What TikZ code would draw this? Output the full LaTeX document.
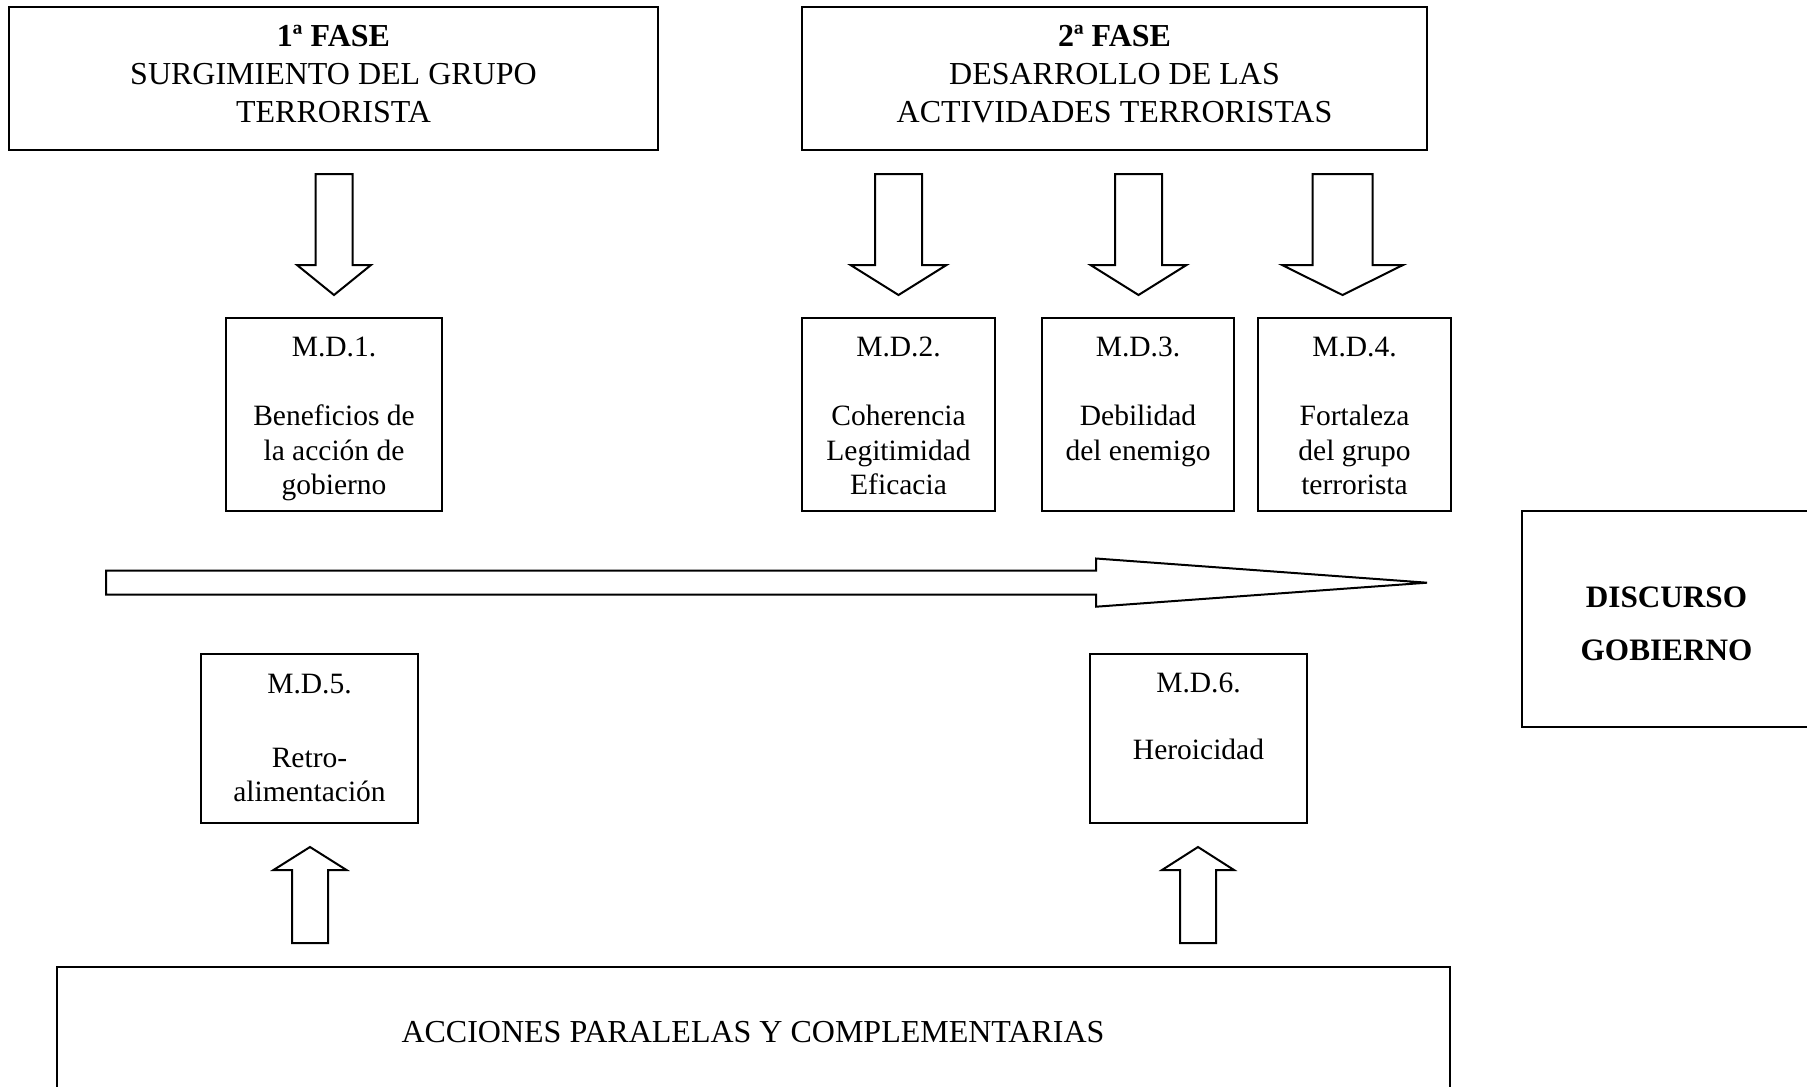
\documentclass[tikz,border=0pt]{standalone}
\usepackage{fontspec}
\setmainfont{Liberation Serif}
\newcommand\blkarrow[6]{\draw[blk] (#1-#2,#3) -- (#1+#2,#3) -- (#1+#2,#4) -- (#1+#5,#4) -- (#1,#6) -- (#1-#5,#4) -- (#1-#2,#4) -- cycle;}
\tikzset{
  box/.style={draw=black, line width=1pt, fill=white, inner sep=0pt, rectangle},
  blk/.style={draw=black, line width=1pt, fill=white, line join=miter},
  ttl/.style={inner sep=0pt, align=center, font=\fontsize{16pt}{19pt}\selectfont},
  mdtxt/.style={inner sep=0pt, align=center, font=\fontsize{14.75pt}{17.25pt}\selectfont},
  disc/.style={inner sep=0pt, align=center, font=\fontsize{15.6pt}{26.75pt}\selectfont\bfseries},
}
\begin{document}
\begin{tikzpicture}[x=0.5pt, y=-0.5pt]
\useasboundingbox[fill=white] (0,0) rectangle (1807,1086);

% phase boxes
\node[box, minimum width=324.5pt, minimum height=71.5pt] (f1) at (333.5,78.5) {};
\node[box, minimum width=312.5pt, minimum height=71.5pt] (f2) at (1114.5,78.5) {};
\node[ttl, anchor=north] (f1t) at (333.5,25.1) {\textbf{1ª FASE}\\SURGIMIENTO DEL GRUPO\\TERRORISTA};
\node[ttl, anchor=north] (f2t) at (1114.5,25.1) {\textbf{2ª FASE}\\DESARROLLO DE LAS\\ACTIVIDADES TERRORISTAS};

% M.D. boxes
\node[box, minimum width=108pt, minimum height=96.5pt] (md1) at (334,414.5) {};
\node[box, minimum width=96.5pt, minimum height=96.5pt] (md2) at (898.5,414.5) {};
\node[box, minimum width=96pt, minimum height=96.5pt] (md3) at (1138,414.5) {};
\node[box, minimum width=96.5pt, minimum height=96.5pt] (md4) at (1354.5,414.5) {};
\node[box, minimum width=108.5pt, minimum height=84.5pt] (md5) at (309.5,738.5) {};
\node[box, minimum width=108.5pt, minimum height=84.5pt] (md6) at (1198.5,738.5) {};

\node[mdtxt, anchor=north] (md1t) at (334,336.8) {M.D.1.\\[17.25pt]Beneficios de\\la acción de\\gobierno};
\node[mdtxt, anchor=north] (md2t) at (898.5,336.8) {M.D.2.\\[17.25pt]Coherencia\\Legitimidad\\Eficacia};
\node[mdtxt, anchor=north] (md3t) at (1138,336.8) {M.D.3.\\[17.25pt]Debilidad\\del enemigo};
\node[mdtxt, anchor=north] (md4t) at (1354.5,336.8) {M.D.4.\\[17.25pt]Fortaleza\\del grupo\\terrorista};
\node[mdtxt, anchor=north] (md5t) at (309.5,674) {M.D.5.\\[19.5pt]Retro-\\alimentación};
\node[mdtxt, anchor=north] (md6t) at (1198.5,673) {M.D.6.\\[16pt]Heroicidad};

% discurso box
\node[box, minimum width=144pt, minimum height=108pt] (dg) at (1666,619) {};
\node[disc, anchor=north] (dgt) at (1666.5,586) {DISCURSO\\GOBIERNO};

% bottom box
\node[box, minimum width=696.5pt, minimum height=66.5pt] (acc) at (753.5,1033.5) {};
\node[ttl, anchor=north] (acct) at (753,1020.4) {ACCIONES PARALELAS Y COMPLEMENTARIAS};

% block arrows
\blkarrow{334}{18.5}{174}{265}{37}{295}
\blkarrow{898.5}{23.5}{174}{265}{48}{295}
\blkarrow{1138.5}{23.5}{174}{265}{48}{295}
\blkarrow{1342.5}{30}{174}{265}{60.5}{295}
\blkarrow{310}{18}{943}{870}{36.5}{847}
\blkarrow{1198}{18}{943}{870}{36}{847}

% horizontal arrow
\draw[blk] (106,570.5) -- (1096,570.5) -- (1096,558.5) -- (1427,582.7) -- (1096,606.7) -- (1096,594.5) -- (106,594.5) -- cycle;
\end{tikzpicture}
\end{document}
